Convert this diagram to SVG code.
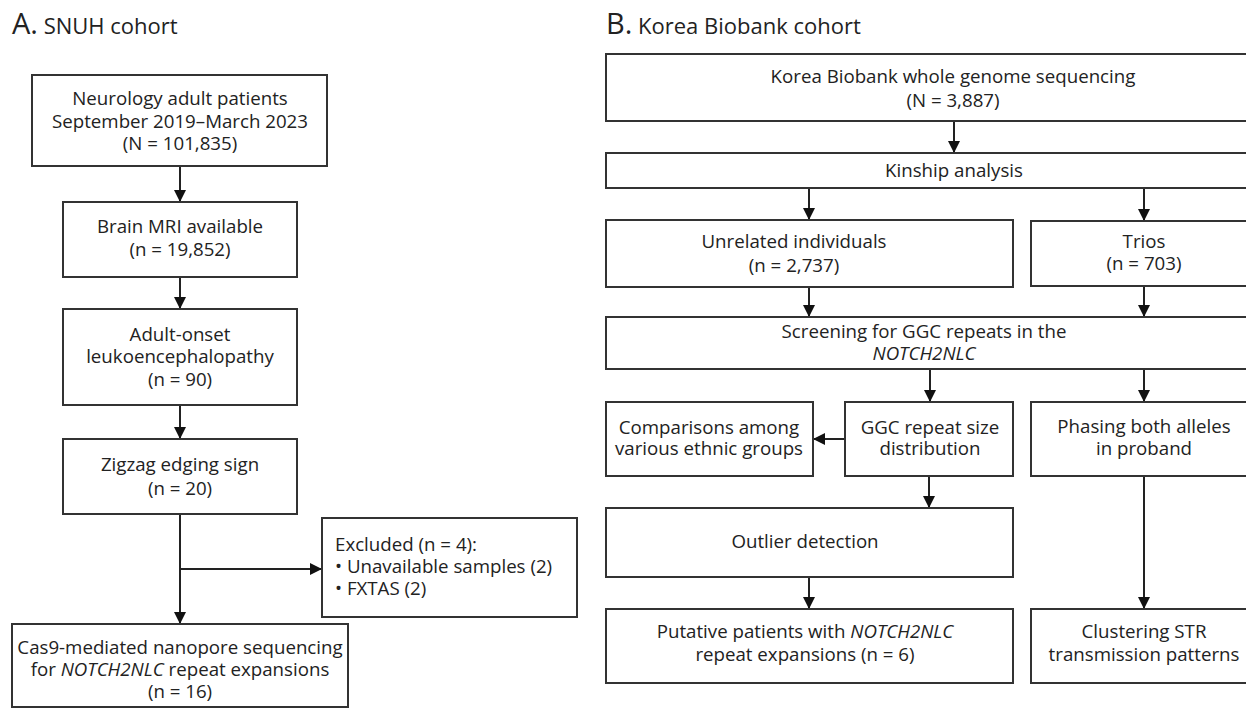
<svg xmlns="http://www.w3.org/2000/svg" width="1246" height="711" viewBox="0 0 1246 711">
<style>
  .bx{fill:#fff;stroke:#333;stroke-width:2}
  .t{font-family:"Open Sans","Liberation Sans",sans-serif;font-size:18.7px;fill:#222;text-anchor:middle}
  .l{text-anchor:start}
  .ttl{font-family:"Open Sans","Liberation Sans",sans-serif;font-size:22px;fill:#222}
  .big{font-size:29px}
  .c{fill:none;stroke:#222;stroke-width:2;marker-end:url(#ah)}
  .p{fill:none;stroke:#222;stroke-width:2}
</style>
<defs>
  <marker id="ah" markerUnits="userSpaceOnUse" markerWidth="14" markerHeight="14" refX="12" refY="6" orient="auto">
    <path d="M0,0 L12,6 L0,12 z" fill="#111"/>
  </marker>
</defs>
<rect width="1246" height="711" fill="#fff"/>
<g id="titles">
  <text class="ttl" x="12" y="34"><tspan class="big">A.</tspan> SNUH cohort</text>
  <text class="ttl" x="606" y="34"><tspan class="big">B.</tspan> Korea Biobank cohort</text>
</g>
<g id="connectors">
  <path class="c" d="M180,166 V202"/>
  <path class="c" d="M180,277 V309"/>
  <path class="c" d="M180,405 V439"/>
  <path class="c" d="M180,514 V624"/>
  <path class="c" d="M180,569 H322"/>
  <path class="c" d="M954,121 V153"/>
  <path class="c" d="M809,188 V220"/>
  <path class="c" d="M1144,188 V221"/>
  <path class="c" d="M809,287 V317"/>
  <path class="c" d="M1144,286 V317"/>
  <path class="c" d="M930,369 V402"/>
  <path class="c" d="M1144,369 V402"/>
  <path class="c" d="M845,439 H813"/>
  <path class="c" d="M929,476 V508"/>
  <path class="c" d="M809,577 V609"/>
  <path class="c" d="M1144,476 V609"/>
</g>
<g id="a1"><rect class="bx" x="32" y="75" width="295" height="91"/>
  <text class="t" x="180" y="105">Neurology adult patients</text>
  <text class="t" x="180" y="128">September 2019–March 2023</text>
  <text class="t" x="180" y="150">(N = 101,835)</text></g>
<g id="a2"><rect class="bx" x="63" y="202" width="234" height="75"/>
  <text class="t" x="180" y="233">Brain MRI available</text>
  <text class="t" x="180" y="256">(n = 19,852)</text></g>
<g id="a3"><rect class="bx" x="63" y="309" width="234" height="96"/>
  <text class="t" x="180" y="341">Adult-onset</text>
  <text class="t" x="180" y="363">leukoencephalopathy</text>
  <text class="t" x="180" y="386">(n = 90)</text></g>
<g id="a4"><rect class="bx" x="63" y="439" width="234" height="75"/>
  <text class="t" x="180" y="471">Zigzag edging sign</text>
  <text class="t" x="180" y="495">(n = 20)</text></g>
<g id="a5"><rect class="bx" x="322" y="518" width="255" height="99"/>
  <text class="t l" x="335" y="551">Excluded (n = 4):</text>
  <text class="t l" x="335" y="573">• Unavailable samples (2)</text>
  <text class="t l" x="335" y="595">• FXTAS (2)</text></g>
<g id="a6"><rect class="bx" x="12" y="624" width="336" height="83"/>
  <text class="t" x="180" y="654">Cas9-mediated nanopore sequencing</text>
  <text class="t" x="180" y="676">for <tspan font-style="italic">NOTCH2NLC</tspan> repeat expansions</text>
  <text class="t" x="180" y="698">(n = 16)</text></g>
<g id="b1"><rect class="bx" x="606" y="54" width="700" height="67"/>
  <text class="t" x="953" y="83">Korea Biobank whole genome sequencing</text>
  <text class="t" x="953" y="107">(N = 3,887)</text></g>
<g id="b2"><rect class="bx" x="606" y="153" width="700" height="35"/>
  <text class="t" x="954" y="177">Kinship analysis</text></g>
<g id="b3"><rect class="bx" x="606" y="220" width="407" height="67"/>
  <text class="t" x="794" y="248">Unrelated individuals</text>
  <text class="t" x="794" y="272">(n = 2,737)</text></g>
<g id="b4"><rect class="bx" x="1031" y="221" width="226" height="65"/>
  <text class="t" x="1144" y="248">Trios</text>
  <text class="t" x="1144" y="270">(n = 703)</text></g>
<g id="b5"><rect class="bx" x="606" y="317" width="700" height="52"/>
  <text class="t" x="924" y="338">Screening for GGC repeats in the</text>
  <text class="t" x="924" y="360" font-style="italic">NOTCH2NLC</text></g>
<g id="b6"><rect class="bx" x="606" y="402" width="207" height="74"/>
  <text class="t" x="709" y="434">Comparisons among</text>
  <text class="t" x="709" y="455">various ethnic groups</text></g>
<g id="b7"><rect class="bx" x="845" y="402" width="168" height="74"/>
  <text class="t" x="930" y="434">GGC repeat size</text>
  <text class="t" x="930" y="455">distribution</text></g>
<g id="b8"><rect class="bx" x="1031" y="402" width="226" height="74"/>
  <text class="t" x="1144" y="433">Phasing both alleles</text>
  <text class="t" x="1144" y="455">in proband</text></g>
<g id="b9"><rect class="bx" x="606" y="508" width="407" height="69"/>
  <text class="t" x="805" y="548">Outlier detection</text></g>
<g id="b10"><rect class="bx" x="606" y="609" width="407" height="74"/>
  <text class="t" x="805" y="638">Putative patients with <tspan font-style="italic">NOTCH2NLC</tspan></text>
  <text class="t" x="805" y="661">repeat expansions (n = 6)</text></g>
<g id="b11"><rect class="bx" x="1031" y="609" width="226" height="74"/>
  <text class="t" x="1144" y="638">Clustering STR</text>
  <text class="t" x="1144" y="661">transmission patterns</text></g>
</svg>
